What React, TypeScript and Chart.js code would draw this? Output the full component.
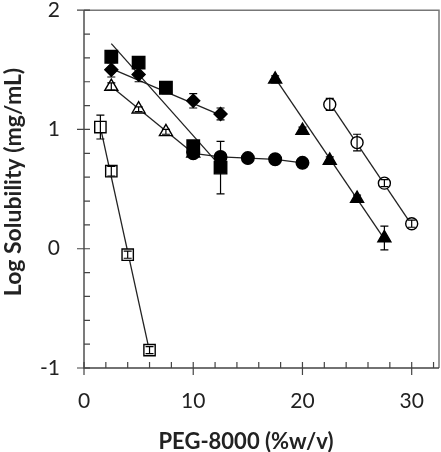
import { useEffect, useRef } from "react";
import { Chart, registerables } from "chart.js";

Chart.register(...registerables);

// ---- Data ----
const openSquareX = [1.5, 2.5, 4, 6];
const openSquareY = [1.02, 0.65, -0.05, -0.85];
const openSquareErr = [0.1, 0.04, 0.03, 0.03];

const filledSquareX = [2.5, 5, 7.5, 10, 12.5];
const filledSquareY = [1.61, 1.56, 1.35, 0.86, 0.68];
const filledSquareErr = [0.05, 0.04, 0.05, 0.04, 0.22];

const diamondX = [2.5, 5, 10, 12.5];
const diamondY = [1.5, 1.46, 1.24, 1.13];
const diamondErr = [0.06, 0.06, 0.06, 0.05];

const openTriX = [2.5, 5, 7.5, 10];
const openTriY = [1.36, 1.17, 0.98, 0.8];
const openTriErr = [0.03, 0.02, 0.02, 0.02];

const filledCircleX = [10, 12.5, 15, 17.5, 20];
const filledCircleY = [0.8, 0.77, 0.76, 0.75, 0.72];
const filledCircleErr = [0.02, 0.02, 0.02, 0.02, 0.02];

const filledTriX = [17.5, 20, 22.5, 25, 27.5];
const filledTriY = [1.42, 0.99, 0.74, 0.42, 0.09];
const filledTriErr = [0.03, 0.03, 0.03, 0.03, 0.1];

const openCircleX = [22.5, 25, 27.5, 30];
const openCircleY = [1.21, 0.89, 0.55, 0.21];
const openCircleErr = [0.05, 0.07, 0.03, 0.03];

// fitted lines (end points)
const fitOpenSquareX = [1.5, 6];
const fitOpenSquareY = [1.02, -0.86];
const fitFilledSquareX = [2.5, 12.5];
const fitFilledSquareY = [1.72, 0.69];
const fitDiamondX = [2.5, 12.5];
const fitDiamondY = [1.51, 1.12];
const fitOpenTriX = [2.5, 10];
const fitOpenTriY = [1.36, 0.8];
const fitFilledTriX = [17.5, 27.5];
const fitFilledTriY = [1.43, 0.08];
const fitOpenCircleX = [22.5, 30];
const fitOpenCircleY = [1.22, 0.2];

// axes
const xTickValues = [0, 10, 20, 30];
const yTickValues = [-1, 0, 1, 2];
const xMin = 0;
const xMax = 32.5;
const yMin = -1;
const yMax = 2;
const xMinorStep = 2;
const yMinorStep = 0.2;
const xTitle = "PEG-8000 (%w/v)";
const yTitle = "Log Solubility (mg/mL)";

const FONT = "Lato, 'Open Sans', sans-serif";
const PLOT_RIGHT_GAP = 2;

const pts = (xs: number[], ys: number[]) => xs.map((x, i) => ({ x, y: ys[i] }));

const markerSet = (
  label: string,
  xs: number[],
  ys: number[],
  errs: number[],
  style: string,
  radius: number,
  filled: boolean
) => ({
  label,
  data: pts(xs, ys),
  errors: errs,
  pointStyle: style,
  pointRadius: radius,
  pointBackgroundColor: filled ? "#000" : "#fff",
  pointBorderColor: "#000",
  pointBorderWidth: 1.4,
  showLine: false,
  order: 0,
});

const lineSet = (label: string, xs: number[], ys: number[]) => ({
  label,
  data: pts(xs, ys),
  showLine: true,
  borderColor: "#222",
  borderWidth: 1.3,
  pointRadius: 0,
  order: 1,
});

const axesPlugin = {
  id: "axesFrame",
  afterLayout(chart: any) {
    // keep the plot area's right edge where the reference has it
    const a = chart.chartArea;
    const target = chart.width - PLOT_RIGHT_GAP;
    if (a.right !== target) {
      a.right = target;
      a.width = a.right - a.left;
      const x = chart.scales.x;
      x.right = target;
      x.width = target - x.left;
      x.configure();
    }
  },
  beforeDatasetsDraw(chart: any) {
    const { ctx, chartArea: a, scales } = chart;
    const xs = scales.x;
    const ys = scales.y;
    ctx.save();
    // frame (top & right)
    ctx.strokeStyle = "#777";
    ctx.lineWidth = 1.5;
    ctx.beginPath();
    ctx.moveTo(a.left, a.top);
    ctx.lineTo(a.right, a.top);
    ctx.lineTo(a.right, a.bottom);
    ctx.stroke();
    // axes
    ctx.strokeStyle = "#444";
    ctx.lineWidth = 1.4;
    ctx.beginPath();
    ctx.moveTo(a.left, a.top);
    ctx.lineTo(a.left, a.bottom);
    ctx.lineTo(a.right, a.bottom);
    ctx.stroke();
    // minor ticks
    ctx.lineWidth = 1.2;
    ctx.beginPath();
    for (let v = xMin; v <= xMax + 1e-9; v += xMinorStep) {
      const px = xs.getPixelForValue(v);
      ctx.moveTo(px, a.bottom);
      ctx.lineTo(px, a.bottom - 6);
    }
    for (let v = yMin; v <= yMax + 1e-9; v += yMinorStep) {
      const py = ys.getPixelForValue(v);
      ctx.moveTo(a.left, py);
      ctx.lineTo(a.left + 6, py);
    }
    // major ticks
    for (const v of xTickValues) {
      const px = xs.getPixelForValue(v);
      ctx.moveTo(px, a.bottom - 6);
      ctx.lineTo(px, a.bottom + 7);
    }
    for (const v of yTickValues) {
      const py = ys.getPixelForValue(v);
      ctx.moveTo(a.left - 7, py);
      ctx.lineTo(a.left + 6, py);
    }
    ctx.stroke();
    ctx.restore();
  },
  afterDatasetsDraw(chart: any) {
    const { ctx, scales } = chart;
    const xs = scales.x;
    const ys = scales.y;
    ctx.save();
    ctx.strokeStyle = "#000";
    ctx.lineWidth = 1.2;
    chart.data.datasets.forEach((ds: any) => {
      if (!ds.errors) return;
      ds.data.forEach((p: any, i: number) => {
        const e = ds.errors[i];
        const px = xs.getPixelForValue(p.x);
        const top = ys.getPixelForValue(p.y + e);
        const bot = ys.getPixelForValue(p.y - e);
        ctx.beginPath();
        ctx.moveTo(px, top);
        ctx.lineTo(px, bot);
        ctx.moveTo(px - 4, top);
        ctx.lineTo(px + 4, top);
        ctx.moveTo(px - 4, bot);
        ctx.lineTo(px + 4, bot);
        ctx.stroke();
      });
    });
    ctx.restore();
  },
  afterDraw(chart: any) {
    const { ctx } = chart;
    ctx.save();
    ctx.fillStyle = "#222";
    ctx.textAlign = "center";
    ctx.textBaseline = "middle";
    ctx.font = `bold 22px ${FONT}`;
    ctx.fillText(xTitle, 246, 442);
    ctx.font = `bold 23px ${FONT}`;
    ctx.translate(14, 182);
    ctx.rotate(-Math.PI / 2);
    ctx.fillText(yTitle, 0, 0);
    ctx.restore();
  },
};

export default function App() {
  const ref = useRef<HTMLCanvasElement>(null);
  useEffect(() => {
    document.body.style.margin = "0";
    const chart = new Chart(ref.current!, {
      type: "scatter",
      data: {
        datasets: [
          markerSet("filled circle", filledCircleX, filledCircleY, filledCircleErr, "circle", 6.3, true),
          markerSet("filled square", filledSquareX, filledSquareY, filledSquareErr, "rect", 8.8, true),
          markerSet("diamond", diamondX, diamondY, diamondErr, "rectRot", 6.5, true),
          markerSet("open triangle", openTriX, openTriY, openTriErr, "triangle", 7.5, false),
          markerSet("open square", openSquareX, openSquareY, openSquareErr, "rect", 8, false),
          markerSet("filled triangle", filledTriX, filledTriY, filledTriErr, "triangle", 7.5, true),
          markerSet("open circle", openCircleX, openCircleY, openCircleErr, "circle", 6, false),
          lineSet("fit open square", fitOpenSquareX, fitOpenSquareY),
          lineSet("fit filled square", fitFilledSquareX, fitFilledSquareY),
          lineSet("fit diamond", fitDiamondX, fitDiamondY),
          lineSet("fit open triangle", fitOpenTriX, fitOpenTriY),
          lineSet("line filled circle", filledCircleX, filledCircleY),
          lineSet("fit filled triangle", fitFilledTriX, fitFilledTriY),
          lineSet("fit open circle", fitOpenCircleX, fitOpenCircleY),
        ] as any,
      },
      options: {
        animation: false,
        responsive: false,
        devicePixelRatio: 1,
        layout: { padding: { top: 10, right: PLOT_RIGHT_GAP, left: 0, bottom: 0 } },
        plugins: { legend: { display: false }, tooltip: { enabled: false } },
        scales: {
          x: {
            type: "linear",
            min: xMin,
            max: xMax,
            grid: {
              display: true,
              drawOnChartArea: false,
              drawTicks: true,
              tickLength: 16,
              color: "rgba(0,0,0,0)",
            },
            border: { display: false },
            afterBuildTicks: (s: any) => {
              s.ticks = xTickValues.map((v) => ({ value: v }));
            },
            afterFit: (s: any) => {
              s.height = 84;
              s.paddingLeft = 0;
              s.paddingRight = 0;
            },
            ticks: {
              padding: 5,
              color: "#222",
              font: { family: FONT, size: 21 },
              maxRotation: 0,
            },
          },
          y: {
            type: "linear",
            min: yMin,
            max: yMax,
            grid: { display: false, drawTicks: false },
            border: { display: false },
            afterBuildTicks: (s: any) => {
              s.ticks = yTickValues.map((v) => ({ value: v }));
            },
            afterFit: (s: any) => {
              s.width = 84;
              s.paddingTop = 0;
              s.paddingBottom = 0;
            },
            ticks: {
              padding: 24,
              color: "#222",
              font: { family: FONT, size: 21 },
            },
          },
        },
      },
      plugins: [axesPlugin],
    } as any);
    return () => chart.destroy();
  }, []);
  return (
    <canvas ref={ref} width={441} height={452} style={{ display: "block" }} />
  );
}
